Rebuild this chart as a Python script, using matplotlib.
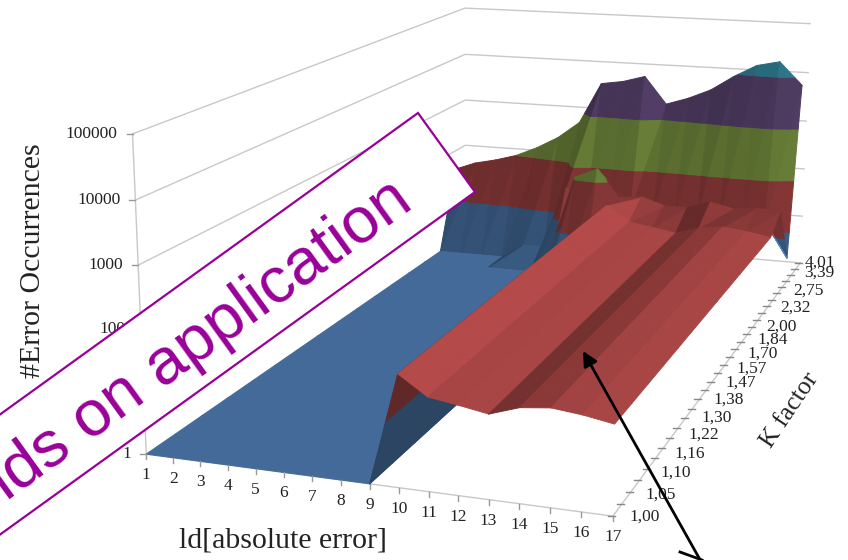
import numpy as np
import matplotlib
matplotlib.use("Agg")
import matplotlib.pyplot as plt
from matplotlib.collections import PolyCollection
from matplotlib.patches import Polygon

x_labels = list(range(1, 18))
k_labels = ["1,00", "1,05", "1,10", "1,16", "1,22", "1,30", "1,38", "1,47",
            "1,57", "1,70", "1,84", "2,00", "2,32", "2,75", "3,39", "4,01"]
z_ticks = [1, 10, 100, 1000, 10000, 100000]

# log10 of error occurrences
z_plateau = [0, 0, 0, 0, 0, 0, 0, 0, 0, 1.75, 1.45, 1.38, 1.30, 1.45, 1.50, 1.45, 1.37]
z_k13 = [0, 0, 0, 0, 0, 0, 0.3, 2.05, 2.25, 1.7, 1.75, 1.6, 1.6, 1.75, 1.65, 1.7, 1.68]
z_k14 = [0, 0, 0, 0, 0.3, 0.3, 1.6, 1.2, 1.25, 1.3, 1.25, 1.25, 1.25, 1.25, 1.25, 1.2, 0.5]
z_k15 = [1.6, 1.77, 1.87, 2.0, 2.2, 2.45, 2.8, 3.65, 3.72, 3.85, 3.3, 3.45, 3.65, 3.95, 4.2, 4.3, 3.85]
z_rows = [z_plateau] * 13 + [z_k13, z_k14, z_k15]

band_colors = ["#4f7db4", "#b04948", "#8ba94a", "#6d5287", "#3fa5c0"]

# (x, k, log z) -> picture pixel, fitted on the corners of the chart box
anchors = [(1, 0, 0, 146, 453), (1, 0, 0, 146, 453), (1, 0, 3, 138, 265), (1, 0, 4, 135, 200), (1, 0, 5, 133, 135),
           (9, 0, 0, 370, 483), (17, 0, 0, 613, 517), (17, 0, 0, 613, 517), (17, 0, 0, 613, 517),
           (17, 15, 0, 800, 262), (17, 15, 0, 800, 262), (17, 15, 1, 802, 215), (17, 15, 3, 807, 121),
           (17, 15, 4, 808, 73), (17, 15, 5, 810, 25),
           (1, 15, 0, 466, 238), (1, 15, 3, 465, 99), (1, 15, 4, 465, 53), (1, 15, 5, 465, 8)]
A, b = [], []
for ax_, ak, az, px, py in anchors:
    A.append([ax_, ak, az, 1, 0, 0, 0, 0, -px * ax_, -px * ak, -px * az])
    A.append([0, 0, 0, 0, ax_, ak, az, 1, -py * ax_, -py * ak, -py * az])
    b += [px, py]
sol = np.linalg.lstsq(np.array(A, float), np.array(b, float), rcond=None)[0]
P = np.append(sol, 1).reshape(3, 4)
cam = np.linalg.solve(P[:, :3], -P[:, 3])
row_scale = 0.955


def proj(x, k, z):
    v = P @ np.array([x, k, z, 1.0])
    return v[0] / v[2], v[1] / v[2]


def clip_band(tri, lo, hi):
    # cut a triangle down to the part between two z levels
    out = list(tri)
    for level, sign in ((lo, 1), (hi, -1)):
        cur = []
        for i in range(len(out)):
            a, c = np.array(out[i]), np.array(out[(i + 1) % len(out)])
            da, dc = sign * (a[2] - level), sign * (c[2] - level)
            if da >= 0:
                cur.append(a)
            if da * dc < 0:
                cur.append(a + (c - a) * da / (da - dc))
        out = cur
        if not out:
            break
    return out


def shade(tri):
    e1 = np.array(tri[1], float) - np.array(tri[0], float)
    e2 = np.array(tri[2], float) - np.array(tri[0], float)
    e1[2] *= 3
    e2[2] *= 3
    n = np.cross(e1, e2)
    n = n / np.linalg.norm(n)
    if n[2] < 0:
        n = -n
    return float(np.clip(0.85 + 0.45 * n[0] - 0.2 * abs(n[1]), 0.55, 1.02))


polys, colors = [], []
for k in range(len(z_rows) - 2, -1, -1):
    order = sorted(range(len(x_labels) - 1), key=lambda i: -abs(x_labels[i] + 0.5 - cam[0]))
    for i in order:
        x0, x1 = x_labels[i], x_labels[i + 1]
        k0, k1 = k * row_scale, (k + 1) * row_scale
        p00 = (x0, k0, z_rows[k][i])
        p10 = (x1, k0, z_rows[k][i + 1])
        p11 = (x1, k1, z_rows[k + 1][i + 1])
        p01 = (x0, k1, z_rows[k + 1][i])
        for tri in ((p00, p10, p11), (p00, p11, p01)):
            s = shade(tri)
            for b_i, col in enumerate(band_colors):
                poly = clip_band(tri, b_i, b_i + 1)
                if len(poly) < 3:
                    continue
                polys.append([proj(*p) for p in poly])
                rgb = np.array(matplotlib.colors.to_rgb(col)) * s
                colors.append(tuple(np.clip(rgb, 0, 1)))

fig = plt.figure(figsize=(8.48, 5.6), dpi=100)
ax = fig.add_axes([0, 0, 1, 1])
ax.set_xlim(0, 848)
ax.set_ylim(560, 0)
ax.axis("off")

grid = "#c8c8c8"
xmin, xmax, kmax = x_labels[0], x_labels[-1], len(k_labels) - 1
for z in range(6):
    pts = [proj(xmin, 0, z), proj(xmin, kmax, z), proj(xmax, kmax, z)]
    ax.plot(*zip(*pts), color=grid, lw=1, zorder=0)
ax.plot(*zip(proj(xmin, 0, 0), proj(xmin, 0, 5)), color=grid, lw=1, zorder=0)
ax.plot(*zip(proj(xmin, 0, 0), proj(xmax, 0, 0)), color=grid, lw=1, zorder=0)
ax.plot(*zip(proj(xmax, 0, 0), proj(xmax, kmax, 0)), color=grid, lw=1, zorder=0)

ax.add_collection(PolyCollection(polys, facecolors=colors, edgecolors=colors, linewidths=0.7, zorder=1))

serif = "Liberation Serif"
txt = "#222222"
for z, lab in enumerate(z_ticks):
    px, py = proj(xmin, 0, z)
    ax.plot([px - 6, px], [py, py], color="#999999", lw=1)
    ax.text(px - 15, py, str(lab), ha="right", va="center", fontsize=12.5, family=serif, color=txt)
for xv in x_labels:
    px, py = proj(xv, 0, 0)
    ax.plot([px, px], [py, py + 5], color="#999999", lw=1)
    ax.text(px, py + 21, str(xv), ha="center", va="center", fontsize=12.5, family=serif, color=txt)

# the K axis has a tick between each pair of labels
for k in np.arange(0, kmax + 0.25, 0.5):
    px, py = proj(xmax, k, 0)
    ax.plot([px - 5, px + 2], [py, py], color="#888888", lw=1)

k_label_left = [629, 645, 660, 674, 688, 701, 713, 725, 736, 747, 757, 766, 780, 793, 804, 805]
k_label_mid = [517, 495, 473, 454, 435, 418, 400, 383, 369, 354, 340, 327, 308, 291, 273, 263]
for k, lab in enumerate(k_labels):
    ax.text(k_label_left[k], k_label_mid[k], lab, ha="left", va="center", fontsize=12.5, family=serif, color=txt)

ax.text(33, 261, "#Error Occurrences", rotation=90, ha="center", va="center", fontsize=21.5, family=serif, color=txt)
ax.text(283, 540, "ld[absolute error]", ha="center", va="center", fontsize=21.5, family=serif, color=txt)
ax.text(790, 410, "K factor", rotation=56, ha="center", va="center", fontsize=18.5, family=serif, color=txt)

# banner lies over the chart
ax.add_patch(Polygon([(418, 113), (475, 192), (-20, 549), (-77, 470)], closed=True, facecolor="white",
                     edgecolor="#990099", lw=1.6, zorder=5))
ax.text(405, 193, "Depends on application", rotation=35.8, rotation_mode="anchor", ha="right", va="center",
        fontsize=47, family="Liberation Sans", color="#990099", zorder=6)

ax.annotate("", xy=(583, 351), xytext=(703, 565),
            arrowprops=dict(arrowstyle="-|>", color="black", lw=2, mutation_scale=22, shrinkA=0, shrinkB=0), zorder=7)
ax.plot([680, 702], [552, 560], color="black", lw=2, zorder=7)

fig.savefig("out.png", dpi=100)
